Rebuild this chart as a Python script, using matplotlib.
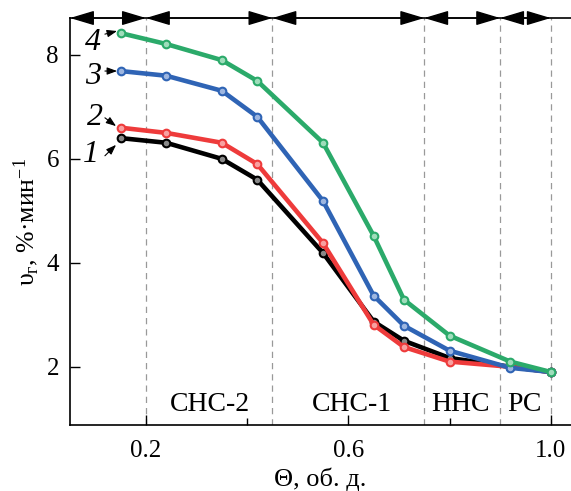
import matplotlib
matplotlib.use('Agg')
import matplotlib.pyplot as plt

plt.rcParams['font.family'] = ['Liberation Serif', 'DejaVu Serif']
plt.rcParams['mathtext.fontset'] = 'custom'
plt.rcParams['mathtext.rm'] = 'Liberation Serif'
plt.rcParams['mathtext.it'] = 'Liberation Serif:italic'

# data
theta = [0.15, 0.24, 0.35, 0.42, 0.55, 0.65, 0.71, 0.80, 0.92, 1.00]
v1 = [6.40, 6.31, 6.00, 5.60, 4.19, 2.87, 2.50, 2.17, 2.00, 1.90]
v2 = [6.60, 6.50, 6.31, 5.90, 4.38, 2.81, 2.38, 2.10, 2.00, 1.90]
v3 = [7.69, 7.60, 7.31, 6.81, 5.19, 3.37, 2.79, 2.31, 1.98, 1.90]
v4 = [8.42, 8.21, 7.90, 7.50, 6.31, 4.52, 3.29, 2.60, 2.10, 1.90]
curve_names = ['1', '2', '3', '4']
colors = ['black', '#EE3B3B', '#2F64B5', '#2BAA6A']
light = ['#888888', '#F8A0A0', '#9DB6E0', '#9FDDBB']

bounds = [0.2, 0.45, 0.75, 0.9, 1.0]
zones = ['СНС-2', 'СНС-1', 'ННС', 'РС']
zone_x = [0.327, 0.608, 0.822, 0.948]

fig = plt.figure(figsize=(5.71, 4.91), dpi=100)
ax = fig.add_axes([0.1226, 0.1344, 0.8774, 0.8289])

for v, c, lc in zip([v1, v2, v3, v4], colors, light):
    ax.plot(theta, v, color=c, lw=3.3, marker='o', ms=5.5, mfc=lc, mec=c, mew=1.5,
            solid_joinstyle='round', solid_capstyle='round')

# dashed zone boundaries
for b in bounds:
    ax.axvline(b, color='#999999', lw=0.9, ls=(0, (5, 4)), zorder=0)

# zone arrows along the top
edges = [0.05] + bounds
for a, b in zip(edges[:-1], edges[1:]):
    ax.annotate('', xy=(a, 1.0), xytext=(b, 1.0), xycoords=('data', 'axes fraction'),
                textcoords=('data', 'axes fraction'),
                arrowprops=dict(arrowstyle='<|-|>,head_length=1.5,head_width=0.45',
                                color='black', lw=1, shrinkA=0, shrinkB=0),
                annotation_clip=False)

for z, zx in zip(zones, zone_x):
    ax.text(zx, 1.27, z, ha='center', va='center', fontsize=20)

# curve numbers with small arrows
lab_x = [0.092, 0.099, 0.095, 0.095]
lab_y = [6.08, 6.80, 7.59, 8.24]
arr_from = [(0.119, 6.06), (0.119, 6.79), (0.119, 7.69), (0.119, 8.40)]
arr_to = [(0.141, 6.27), (0.141, 6.63), (0.143, 7.69), (0.143, 8.46)]
for name, lx, ly, fr, to in zip(curve_names, lab_x, lab_y, arr_from, arr_to):
    ax.text(lx, ly, name, ha='center', va='center', fontsize=23, style='italic')
    ax.annotate('', xy=to, xytext=fr,
                arrowprops=dict(arrowstyle='-|>,head_length=0.6,head_width=0.22',
                                color='black', lw=0.8, shrinkA=0, shrinkB=0))

ax.set_xlim(0.05, 1.04)
ax.set_ylim(0.88, 8.71)
ax.set_xticks([0.2, 0.6, 1.0])
ax.set_xticklabels(['0.2', '0.6', '1.0'])
ax.set_xticks([0.4, 0.8], minor=True)
ax.set_yticks([2, 4, 6, 8])
ax.tick_params(direction='in', length=7, width=1, labelsize=18, pad=8)
ax.tick_params(axis='x', pad=11)
ax.tick_params(which='minor', direction='in', length=5, width=1)
ax.spines['right'].set_visible(False)
for s in ['left', 'bottom', 'top']:
    ax.spines[s].set_linewidth(1.2)

ax.set_xlabel('Θ, об. д.', fontsize=19, labelpad=4)
ax.set_ylabel('υ$_{\\mathrm{г}}$, %·мин$^{-1}$', fontsize=18.5, labelpad=4)

fig.savefig('out.png', dpi=100)
